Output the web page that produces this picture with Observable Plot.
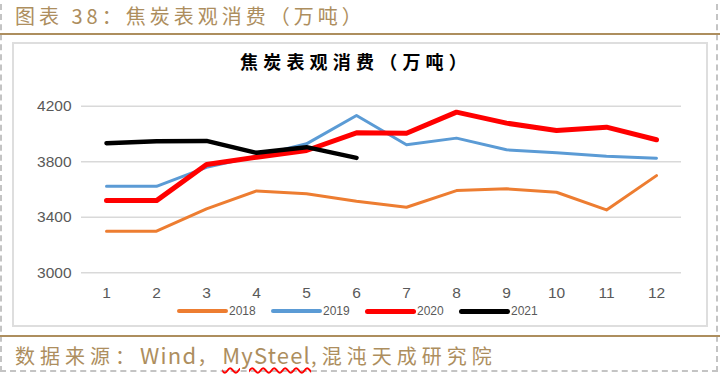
<!DOCTYPE html>
<html>
<head>
<meta charset="utf-8">
<script src="https://cdn.jsdelivr.net/npm/d3@7"></script>
<script src="https://cdn.jsdelivr.net/npm/@observablehq/plot@0.6"></script>
<style>
  html, body { margin: 0; padding: 0; background: #fff; }
  body { width: 724px; height: 376px; position: relative; overflow: hidden; font-family: "Noto Sans CJK SC", "Noto Sans", sans-serif; }
  .dash { position: absolute; left: 0px; top: -6px; width: 718px; height: 378px; border: 2px dashed #c4c4c4; box-sizing: border-box; }
  .title { position: absolute; left: 15px; top: 4px; font-size: 20px; line-height: 24px; color: #ad8e5e; letter-spacing: 4px; white-space: nowrap; }
  .gold { position: absolute; left: 0; width: 720px; height: 2px; background: #ad8e5e; }
  .frame { position: absolute; left: 12px; top: 42px; width: 696px; height: 285px; border: 2px solid #dedede; box-sizing: border-box; }
  .ctitle { position: absolute; left: 240px; top: 49px; white-space: nowrap; font-size: 18px; font-weight: 700; color: #000; letter-spacing: 5.2px; line-height: 24px; }
  #chart { position: absolute; left: 13px; top: 43px; }
  .legend { position: absolute; top: 304px; left: 177px; display: flex; font-family: "Liberation Sans", Arial, sans-serif; font-size: 12px; color: #595959; }
  .item { display: flex; align-items: center; width: 94px; }
  .sw { width: 51px; border-radius: 3px; margin-right: 1px; }
  .source { position: absolute; left: 15px; top: 341px; font-size: 20px; line-height: 26px; color: #ad8e5e; letter-spacing: 5px; white-space: nowrap; }
  .source .lat { letter-spacing: 1.2px; font-size: 22px; }
  .source .ms { text-decoration: underline wavy #ff0000; text-decoration-thickness: 1.5px; text-underline-offset: 3px; }
</style>
</head>
<body>
<div class="dash"></div>
<div class="title">图表 38：焦炭表观消费（万吨）</div>
<div class="gold" style="top:33px"></div>
<div class="frame"></div>
<div class="ctitle">焦炭表观消费（万吨）</div>
<div id="chart"></div>
<div class="legend" id="legend"></div>
<div class="gold" style="top:335px"></div>
<div class="source">数据来源：<span class="lat">Wind</span>，<span class="lat ms">MySteel</span>,混沌天成研究院</div>
<script>
const months = [1, 2, 3, 4, 5, 6, 7, 8, 9, 10, 11, 12];
const seriesNames = ["2018", "2019", "2020", "2021"];
const v2018 = [3300, 3300, 3460, 3590, 3570, 3515, 3472, 3592, 3605, 3580, 3453, 3700];
const v2019 = [3623, 3623, 3760, 3840, 3929, 4133, 3922, 3970, 3886, 3864, 3840, 3825];
const v2020 = [3520, 3520, 3780, 3833, 3881, 4008, 4005, 4157, 4078, 4025, 4049, 3958];
const v2021 = [3934, 3948, 3950, 3864, 3905, 3828];
const yTicks = [3000, 3400, 3800, 4200];

const colors = {"2018": "#ed7d31", "2019": "#5b9bd5", "2020": "#ff0000", "2021": "#000000"};
const widths = {"2018": 3, "2019": 3, "2020": 5, "2021": 4.5};
const values = {"2018": v2018, "2019": v2019, "2020": v2020, "2021": v2021};

const rows = [];
for (const s of seriesNames) {
  values[s].forEach((v, i) => rows.push({series: s, month: months[i], value: v}));
}

const lineMarks = seriesNames.map(s =>
  Plot.line(rows.filter(d => d.series === s), {
    x: "month", y: "value",
    stroke: colors[s], strokeWidth: widths[s],
    strokeLinejoin: "round", strokeLinecap: "round"
  })
);

const chart = Plot.plot({
  width: 694,
  height: 283,
  marginLeft: 68,
  marginRight: 26,
  marginTop: 62.7,
  marginBottom: 53.7,
  style: {fontFamily: "'Liberation Sans', Arial, sans-serif", fontSize: "15.5px", color: "#595959", background: "transparent"},
  x: {type: "point", domain: months, padding: 0.5},
  y: {domain: [3000, 4200]},
  marks: [
    Plot.ruleY(yTicks, {stroke: "#d9d9d9", strokeWidth: 1.5}),
    Plot.axisY({ticks: yTicks, tickSize: 0, tickPadding: 10, label: null, tickFormat: d => String(d)}),
    Plot.axisX({tickSize: 0, tickPadding: 14, label: null}),
    ...lineMarks
  ]
});
document.getElementById("chart").appendChild(chart);

const legend = document.getElementById("legend");
for (const s of seriesNames) {
  const item = document.createElement("div");
  item.className = "item";
  const sw = document.createElement("div");
  sw.className = "sw";
  sw.style.background = colors[s];
  sw.style.height = (s === "2018" || s === "2019") ? "4px" : "5px";
  const t = document.createElement("span");
  t.textContent = s;
  item.appendChild(sw);
  item.appendChild(t);
  legend.appendChild(item);
}
</script>
</body>
</html>
